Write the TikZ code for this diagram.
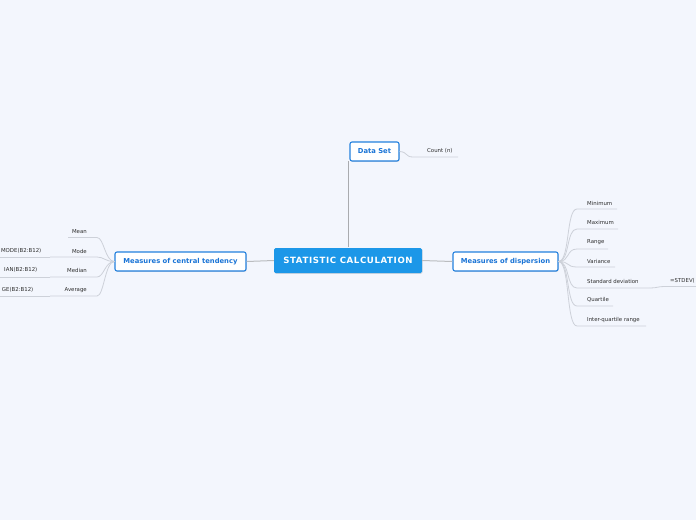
\documentclass[tikz,border=0pt]{standalone}
\usepackage{fontspec}
\setmainfont{DejaVu Sans}
\usetikzlibrary{shadows}
\definecolor{bg}{HTML}{F3F6FD}
\definecolor{mainblue}{HTML}{1C97E8}
\definecolor{edgeblue}{HTML}{2381DE}
\definecolor{txtblue}{HTML}{1A74D6}
\definecolor{linegray}{HTML}{CDD1D9}
\definecolor{trunkgray}{HTML}{A9ABAF}
\definecolor{leaftxt}{HTML}{2E2E2E}
\tikzset{
  rootbox/.style={draw=none, fill=mainblue, rounded corners=1.5pt, text=white, font=\fontsize{8.6}{9}\selectfont\bfseries\addfontfeatures{LetterSpace=7}, inner sep=0pt, drop shadow={shadow xshift=0.6pt, shadow yshift=-0.8pt, opacity=0.25}},
  branchbox/.style={draw=edgeblue, line width=1.1pt, fill=white, rounded corners=2pt, text=txtblue, font=\fontsize{6.8}{8}\selectfont\bfseries, inner sep=0pt, drop shadow={shadow xshift=0.6pt, shadow yshift=-0.8pt, opacity=0.25}},
  leaf/.style={text=leaftxt, font=\fontsize{5.4}{6}\selectfont, inner sep=0pt},
  twig/.style={draw=linegray, line width=0.8pt},
  trunk/.style={draw=trunkgray, line width=1.8pt},
  limb/.style={draw=trunkgray!80, line width=1pt},
}
\begin{document}
\begin{tikzpicture}[x=1pt,y=-1pt]
\path[fill=bg] (0,0) rectangle (696,520);
\useasboundingbox (0,0) rectangle (696,520);
\clip (0,0) rectangle (696,520);

% main boxes
\node[rootbox, minimum width=148pt, minimum height=25pt] (root) at (348,260.5) {STATISTIC CALCULATION};
\node[branchbox, minimum width=49pt, minimum height=19pt] (data) at (374.5,151.5) {Data Set};
\node[branchbox, minimum width=105pt, minimum height=19pt] (disp) at (505.5,261.5) {Measures of dispersion};
\node[branchbox, minimum width=131pt, minimum height=19pt] (tend) at (180.5,261.5) {Measures of central tendency};

% trunk connectors
\coordinate (rtop) at (348.5,247);
\coordinate (dbot) at (348.5,161);
\draw[trunk] (rtop) -- (dbot);
\draw[limb] (root.east) -- (disp.west);
\draw[limb] (root.west) -- (tend.east);

% Data Set child
\node[leaf, anchor=west] (cnt) at (427,151) {Count (n)};
\coordinate (cntA) at (413,157);
\coordinate (cntB) at (458,157);
\draw[twig] (data.east) .. controls (408,152) and (405,157) .. (cntA) -- (cntB);

% dispersion children
\foreach \nm/\txt/\ty/\uy/\ux in {mn/Minimum/203/209/617, mx/Maximum/222/229/618, rg/Range/242/249/608, vr/Variance/261/267/615, qt/Quartile/300/306/613, iq/Inter-quartile range/320/326/646}{
  \node[leaf, anchor=west] (\nm) at (587,\ty) {\txt};
  \coordinate (\nm A) at (577,\uy);
  \coordinate (\nm B) at (\ux,\uy);
  \draw[twig] (disp.east) .. controls (570,261.5) and (566,\uy) .. (\nm A) -- (\nm B);
}
\node[leaf, anchor=west] (sd) at (587,281) {Standard deviation};
\coordinate (sdA) at (577,288);
\coordinate (sdB) at (650,288);
\draw[twig] (disp.east) .. controls (570,261.5) and (566,288) .. (sdA) -- (sdB);
\node[leaf, anchor=west] (stdev) at (670,281) {=STDEV(};
\coordinate (stA) at (664,286.5);
\coordinate (stB) at (700,286.5);
\draw[twig] (sdB) .. controls (657,288) and (658,286.5) .. (stA) -- (stB);

% central tendency children
\node[leaf, anchor=east] (mean) at (87,232) {Mean};
\coordinate (meanA) at (97,237.5);
\coordinate (meanB) at (68,237.5);
\draw[twig] (tend.west) .. controls (105,261.5) and (104,237.5) .. (meanA) -- (meanB);

\foreach \nm/\txt/\ty/\uy in {mo/Mode/251/257, me/Median/270/277, av/Average/290/296}{
  \node[leaf, anchor=east] (\nm) at (87,\ty) {\txt};
  \coordinate (\nm A) at (97,\uy);
  \coordinate (\nm B) at (50,\uy);
  \draw[twig] (tend.west) .. controls (105,261.5) and (104,\uy) .. (\nm A) -- (\nm B);
  \coordinate (\nm C) at (-10,\uy);
  \draw[twig] (\nm B) -- (\nm C);
}
\node[leaf, anchor=east] (mog) at (41.5,251) {MODE(B2:B12)};
\node[leaf, anchor=east] (meg) at (37.5,270) {IAN(B2:B12)};
\node[leaf, anchor=east] (avg) at (33.5,290) {GE(B2:B12)};
\end{tikzpicture}
\end{document}
